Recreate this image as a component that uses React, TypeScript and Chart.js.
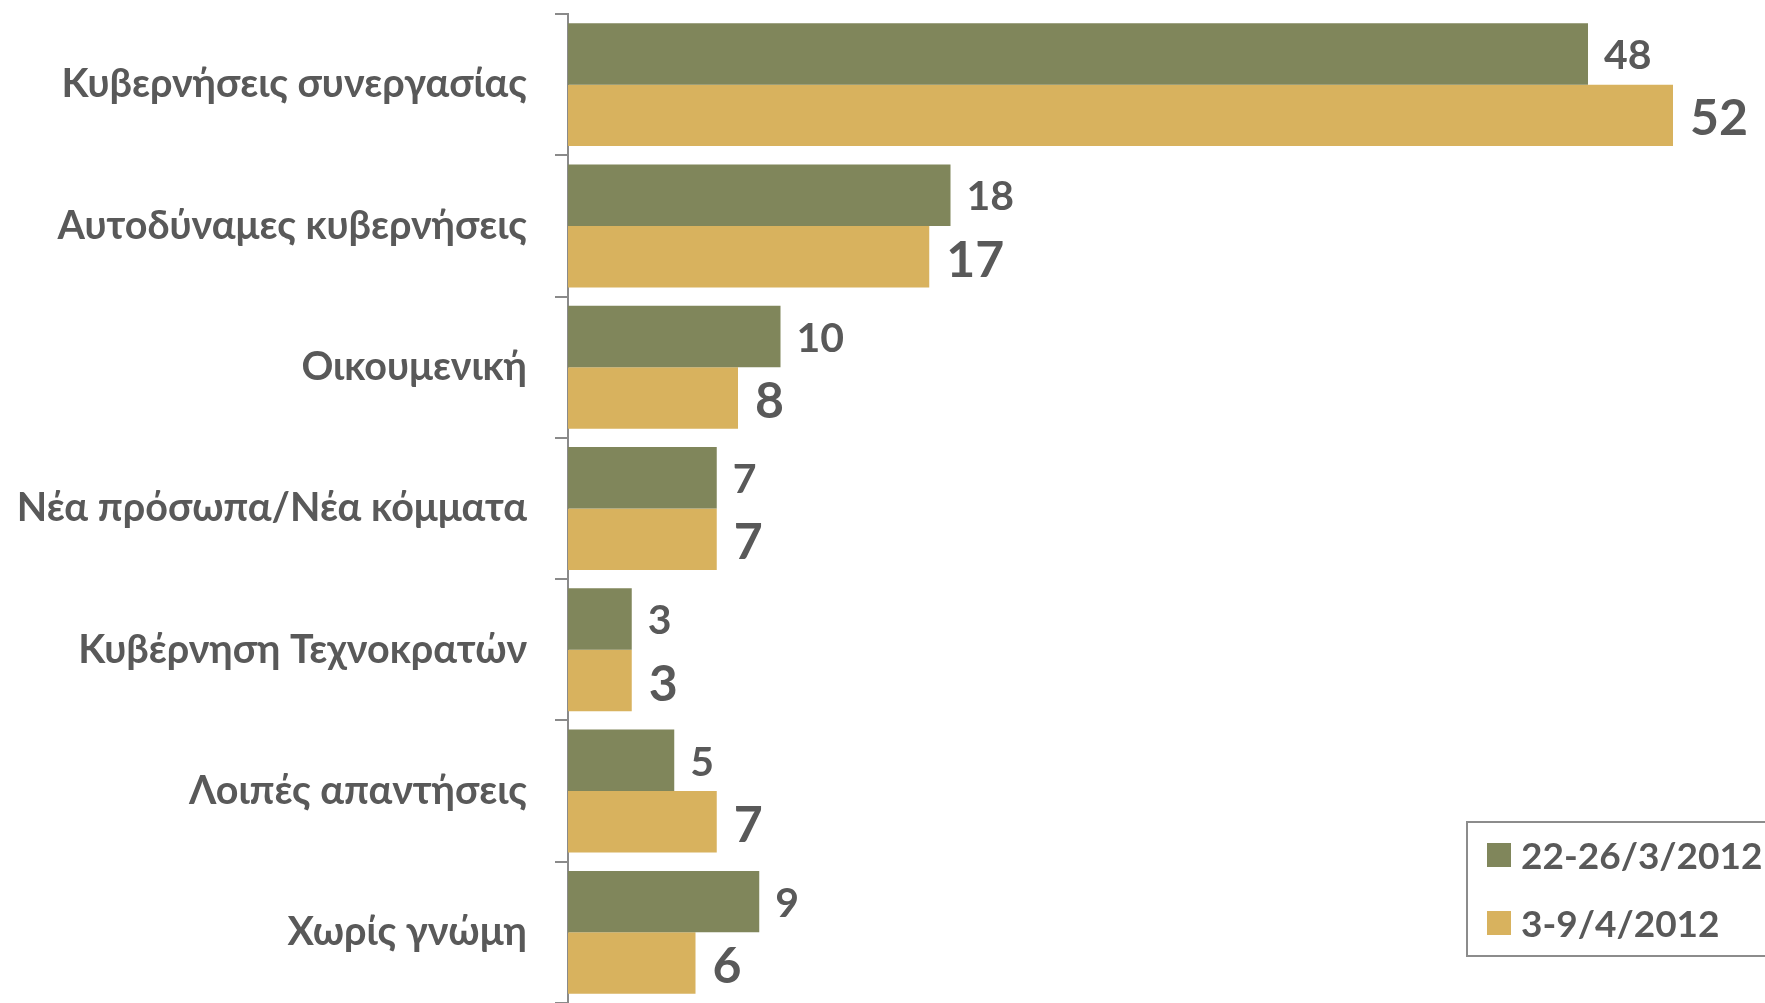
import React, { useEffect, useRef } from "react";
import { Chart, registerables } from "chart.js";

Chart.register(...registerables);

const categories = [
  "Κυβερνήσεις συνεργασίας",
  "Αυτοδύναμες κυβερνήσεις",
  "Οικουμενική",
  "Νέα πρόσωπα/Νέα κόμματα",
  "Κυβέρνηση Τεχνοκρατών",
  "Λοιπές απαντήσεις",
  "Χωρίς γνώμη",
];
const seriesLabels = ["22-26/3/2012", "3-9/4/2012"];
const marchValues = [48, 18, 10, 7, 3, 5, 9];
const aprilValues = [52, 17, 8, 7, 3, 7, 6];

const GREEN = "#80865B";
const YELLOW = "#D8B25E";
const TEXT = "#595959";
const AXIS = "#8A8A8A";
const FONT = "Lato, 'Open Sans', sans-serif";

const labelFonts = [`bold 41px ${FONT}`, `bold 50px ${FONT}`];
const labelGaps = [16, 17];
const labelDy = [2, 4];

const dataLabelPlugin = {
  id: "dataLabels",
  afterDatasetsDraw(chart: any) {
    const ctx = chart.ctx;
    ctx.save();
    chart.data.datasets.forEach((ds: any, di: number) => {
      const meta = chart.getDatasetMeta(di);
      meta.data.forEach((bar: any, i: number) => {
        ctx.font = labelFonts[di];
        ctx.fillStyle = TEXT;
        ctx.textAlign = "left";
        ctx.textBaseline = "middle";
        ctx.fillText(String(ds.data[i]), bar.x + labelGaps[di], bar.y + labelDy[di]);
      });
    });
    ctx.restore();
  },
};

const legendPlugin = {
  id: "boxLegend",
  afterDraw(chart: any) {
    const ctx = chart.ctx;
    const boxLeft = 1467;
    const boxTop = 822;
    const boxRight = chart.width + 10;
    const boxBottom = 956;
    ctx.save();
    ctx.strokeStyle = "#8C8C8C";
    ctx.lineWidth = 2;
    ctx.fillStyle = "#FFFFFF";
    ctx.fillRect(boxLeft, boxTop, boxRight - boxLeft, boxBottom - boxTop);
    ctx.strokeRect(boxLeft, boxTop, boxRight - boxLeft, boxBottom - boxTop);
    const rows = [855, 923];
    chart.data.datasets.forEach((ds: any, di: number) => {
      const cy = rows[di];
      ctx.fillStyle = ds.backgroundColor;
      ctx.fillRect(1487, cy - 12, 24, 24);
      ctx.fillStyle = TEXT;
      ctx.font = `bold 37px ${FONT}`;
      ctx.textAlign = "left";
      ctx.textBaseline = "middle";
      ctx.fillText(ds.label, 1521, cy + 2);
    });
    ctx.restore();
  },
};

export default function App() {
  const ref = useRef<HTMLCanvasElement | null>(null);
  useEffect(() => {
    if (!ref.current) return;
    const chart = new Chart(ref.current, {
      type: "bar",
      data: {
        labels: categories,
        datasets: [
          {
            label: seriesLabels[0],
            data: marchValues,
            backgroundColor: GREEN,
            categoryPercentage: 0.87,
            barPercentage: 1,
          },
          {
            label: seriesLabels[1],
            data: aprilValues,
            backgroundColor: YELLOW,
            categoryPercentage: 0.87,
            barPercentage: 1,
          },
        ],
      },
      options: {
        indexAxis: "y",
        animation: false,
        responsive: false,
        maintainAspectRatio: false,
        layout: { padding: { top: 14, bottom: 0, left: 0, right: 7 } },
        plugins: {
          legend: { display: false },
          tooltip: { enabled: false },
        },
        scales: {
          x: {
            display: false,
            min: 0,
            max: 56,
          },
          y: {
            afterFit(scale: any) {
              scale.width = 568;
              scale.paddingTop = 0;
              scale.paddingBottom = 0;
            },
            grid: {
              offset: true,
              drawOnChartArea: false,
              drawTicks: true,
              tickLength: 13,
              tickColor: AXIS,
              lineWidth: 2,
            },
            border: { display: true, color: AXIS, width: 2 },
            ticks: {
              padding: 28,
              color: TEXT,
              font: { family: FONT, size: 39.5, weight: "bold" },
            },
          },
        },
      },
      plugins: [dataLabelPlugin, legendPlugin],
    });
    return () => chart.destroy();
  }, []);
  return (
    <div style={{ position: "fixed", left: 0, top: 0, width: 1765, height: 1003, background: "#fff" }}>
      <canvas ref={ref} width={1765} height={1003} style={{ width: 1765, height: 1003 }} />
    </div>
  );
}
